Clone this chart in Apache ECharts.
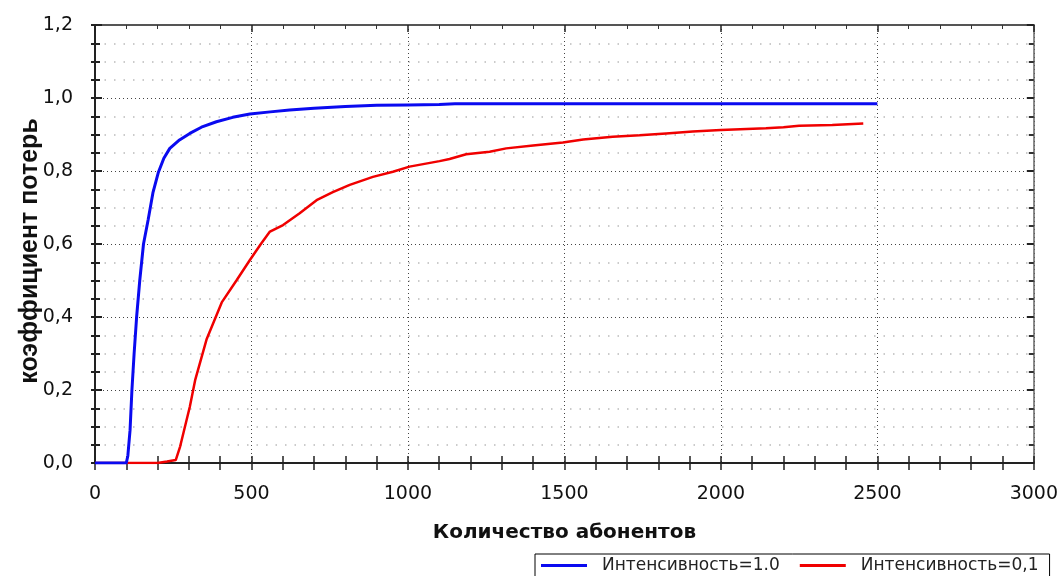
<!DOCTYPE html>
<html>
<head>
<meta charset="utf-8">
<script src="https://cdn.jsdelivr.net/npm/echarts@6/dist/echarts.min.js"></script>
<style>
html,body{margin:0;padding:0;background:#fff;}
#chart{width:1061px;height:576px;}
</style>
</head>
<body>
<div id="chart"></div>
<script>
const seriesNames = ['Интенсивность=1.0', 'Интенсивность=0,1'];
const xAxisTitle = 'Количество абонентов';
const yAxisTitle = 'коэффициент потерь';

const blueData = [
  [0,0],[100,0],[105,0.02],[112,0.09],[118,0.2],[125,0.3],[133,0.4],[143,0.5],[155,0.6],
  [170,0.667],[185,0.74],[202,0.795],[220,0.835],[239,0.862],[270,0.885],[303,0.903],
  [340,0.92],[388,0.935],[440,0.947],[495,0.956],[560,0.962],[622,0.967],[700,0.972],
  [800,0.977],[900,0.98],[1000,0.981],[1100,0.982],[1150,0.984],[1500,0.984],[2000,0.984],[2500,0.984]
];
const redData = [
  [0,0],[200,0],[230,0.004],[258,0.008],[272,0.045],[303,0.154],[320,0.227],[357,0.34],
  [405,0.44],[452,0.50],[495,0.556],[530,0.6],[559,0.634],[601,0.652],[654,0.684],[708,0.72],
  [760,0.742],[814,0.762],[888,0.784],[952,0.798],[1005,0.812],[1101,0.827],[1133,0.833],
  [1186,0.846],[1261,0.853],[1314,0.862],[1400,0.87],[1495,0.878],[1560,0.886],[1654,0.894],
  [1740,0.898],[1825,0.903],[1910,0.908],[2000,0.912],[2144,0.917],[2200,0.92],[2250,0.924],
  [2356,0.926],[2455,0.93]
];

const FONT = '"DejaVu Sans", sans-serif';
const chart = echarts.init(document.getElementById('chart'));

const xCommon = {type:'value', min:0, max:3000, interval:500};
const yCommon = {type:'value', min:0, max:1.2, interval:0.2};
const yFmt = v => v.toFixed(1).replace('.', ',');
const xFmt = v => String(v);

chart.setOption({
  animation:false,
  backgroundColor:'#fff',
  grid:{left:95, right:26, top:25, bottom:113},
  legend:{
    left:535, top:554, padding:[3,11,3,6], itemGap:20,
    borderColor:'#000', borderWidth:1, itemWidth:46, itemHeight:3,
    icon:'rect',
    textStyle:{fontFamily:FONT, fontSize:17, color:'#222', padding:[0,0,0,10]},
    data:seriesNames
  },
  xAxis:[
    Object.assign({}, xCommon, {
      position:'bottom',
      name:xAxisTitle, nameLocation:'middle', nameGap:60, nameMoveOverlap:false,
      nameTextStyle:{fontFamily:FONT, fontSize:20, fontWeight:'bold', color:'#111', verticalAlign:'top'},
      axisLine:{show:true, onZero:false, lineStyle:{color:'#222', width:2}},
      axisTick:{show:true, inside:false, length:7, lineStyle:{color:'#222', width:1.5}},
      minorTick:{show:true, splitNumber:5, length:7, lineStyle:{color:'#222', width:1.5}},
      axisLabel:{margin:22, fontFamily:FONT, fontSize:19, color:'#111', formatter:xFmt},
      splitLine:{show:true, lineStyle:{color:'#444', type:[1,3], width:1}},
      minorSplitLine:{show:false}
    }),
    Object.assign({}, xCommon, {
      position:'bottom',
      axisLine:{show:false, onZero:false},
      axisTick:{show:true, inside:true, length:7, lineStyle:{color:'#222', width:1.5}},
      minorTick:{show:true, splitNumber:5, length:7, lineStyle:{color:'#222', width:1.5}},
      axisLabel:{show:false}, splitLine:{show:false}
    }),
    Object.assign({}, xCommon, {
      position:'top',
      axisLine:{show:true, onZero:false, lineStyle:{color:'#555', width:2}},
      axisTick:{show:true, inside:true, length:7, lineStyle:{color:'#222', width:1.5}},
      minorTick:{show:true, splitNumber:5, length:4, lineStyle:{color:'#333', width:1}},
      axisLabel:{show:false}, splitLine:{show:false}
    })
  ],
  yAxis:[
    Object.assign({}, yCommon, {
      position:'left',
      name:yAxisTitle, nameLocation:'middle', nameGap:52, nameRotate:90, nameMoveOverlap:false,
      nameTextStyle:{fontFamily:'"Liberation Sans", Arial, sans-serif', fontSize:25, fontWeight:'bold', color:'#111', padding:[0,14,0,0]},
      axisLine:{show:true, onZero:false, lineStyle:{color:'#222', width:2}},
      axisTick:{show:true, inside:false, length:4, lineStyle:{color:'#222', width:2}},
      minorTick:{show:true, splitNumber:4, length:4, lineStyle:{color:'#222', width:2}},
      axisLabel:{margin:22, fontFamily:FONT, fontSize:19, color:'#111', formatter:yFmt},
      splitLine:{show:true, lineStyle:{color:'#444', type:[1,3], width:1}},
      minorSplitLine:{show:true, lineStyle:{color:'#bbb', type:[1.5,8], width:1.5}}
    }),
    Object.assign({}, yCommon, {
      position:'left',
      axisLine:{show:false, onZero:false},
      axisTick:{show:true, inside:true, length:7, lineStyle:{color:'#222', width:2}},
      minorTick:{show:true, splitNumber:4, length:5, lineStyle:{color:'#222', width:2}},
      axisLabel:{show:false}, splitLine:{show:false}
    }),
    Object.assign({}, yCommon, {
      position:'right',
      axisLine:{show:true, onZero:false, lineStyle:{color:'#666', width:1.5}},
      axisTick:{show:true, inside:true, length:7, lineStyle:{color:'#222', width:2}},
      minorTick:{show:true, splitNumber:4, length:5, lineStyle:{color:'#333', width:2}},
      axisLabel:{show:false}, splitLine:{show:false}
    })
  ],
  series:[
    {name:seriesNames[0], type:'line', data:blueData, symbol:'none', z:3,
     lineStyle:{color:'#0a0af0', width:3}, itemStyle:{color:'#0a0af0'}},
    {name:seriesNames[1], type:'line', data:redData, symbol:'none', z:2,
     lineStyle:{color:'#f00000', width:2.5}, itemStyle:{color:'#f00000'}}
  ]
});
</script>
</body>
</html>
